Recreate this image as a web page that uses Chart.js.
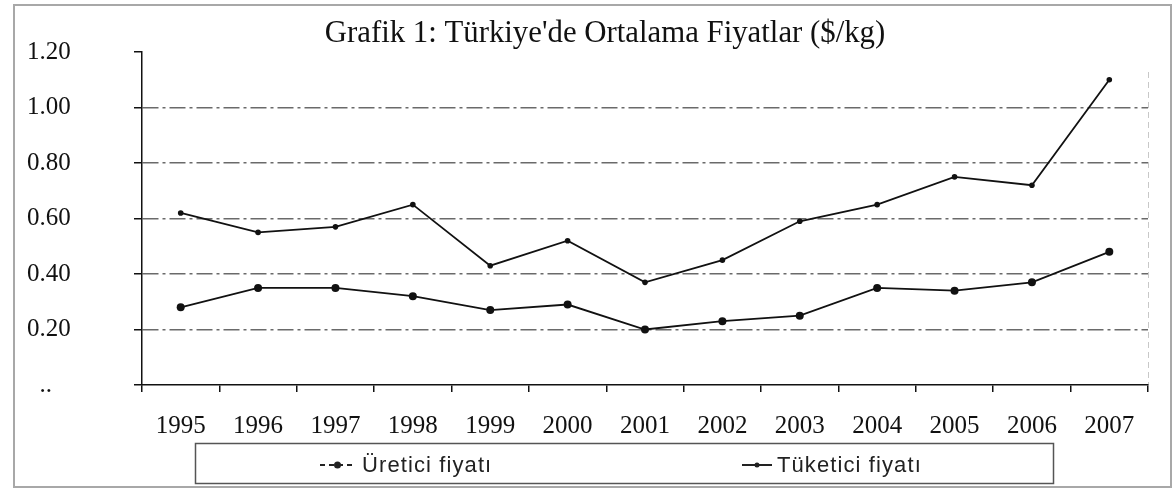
<!DOCTYPE html>
<html>
<head>
<meta charset="utf-8">
<script src="https://cdn.jsdelivr.net/npm/chart.js@4"></script>
<style>
html,body{margin:0;padding:0;background:#fff;}
#wrap{width:1174px;height:490px;position:relative;}
</style>
</head>
<body>
<div id="wrap"><canvas id="c" width="1174" height="490"></canvas></div>
<script>
const titleText = "Grafik 1: Türkiye'de Ortalama Fiyatlar ($/kg)";
const years = ["1995","1996","1997","1998","1999","2000","2001","2002","2003","2004","2005","2006","2007"];
const ureticiLabel = "Üretici fiyatı";
const tuketiciLabel = "Tüketici fiyatı";
const ureticiFiyati = [0.28,0.35,0.35,0.32,0.27,0.29,0.20,0.23,0.25,0.35,0.34,0.37,0.48];
const tuketiciFiyati = [0.62,0.55,0.57,0.65,0.43,0.52,0.37,0.45,0.59,0.65,0.75,0.72,1.10];
const yTickLabels = {0:"  ..",0.2:"0.20",0.4:"0.40",0.6:"0.60",0.8:"0.80",1:"1.00",1.2:"1.20"};

const serif = "'Liberation Serif', 'Times New Roman', serif";
const narrow = "'Liberation Sans Narrow', 'Liberation Sans', Arial, sans-serif";

const decor = {
  id: 'decor',
  beforeDraw(chart) {
    const ctx = chart.ctx;
    ctx.save();
    ctx.fillStyle = '#fff';
    ctx.fillRect(0,0,chart.width,chart.height);
    ctx.strokeStyle = '#a8a8a8';
    ctx.lineWidth = 2;
    ctx.strokeRect(14,5,1157,482);
    const a = chart.chartArea;
    ctx.strokeStyle = '#c8c8c8';
    ctx.lineWidth = 1;
    ctx.setLineDash([6,4]);
    ctx.beginPath();
    ctx.moveTo(a.right+0.5, a.top+20);
    ctx.lineTo(a.right+0.5, a.bottom);
    ctx.stroke();
    ctx.restore();
  },
  afterDraw(chart) {
    const ctx = chart.ctx;
    ctx.save();
    ctx.fillStyle = '#111';
    ctx.font = "30.8px " + serif;
    ctx.textAlign = 'center';
    ctx.textBaseline = 'alphabetic';
    ctx.fillText(titleText, 605, 42);
    ctx.strokeStyle = '#555';
    ctx.lineWidth = 1.5;
    ctx.strokeRect(195.5, 443.5, 858, 40);
    const ds = chart.data.datasets;
    const cy = 465;
    ctx.font = "22px " + narrow;
    try { ctx.letterSpacing = '1.1px'; } catch(e) {}
    ctx.textAlign = 'left';
    ctx.textBaseline = 'middle';
    ctx.strokeStyle = '#222';
    ctx.lineWidth = 2;
    ctx.setLineDash([5,4]);
    ctx.beginPath(); ctx.moveTo(320, cy); ctx.lineTo(355, cy); ctx.stroke();
    ctx.setLineDash([]);
    ctx.fillStyle = '#222';
    ctx.beginPath(); ctx.arc(337.5, cy, 3.5, 0, Math.PI*2); ctx.fill();
    ctx.fillText(ds[0].label, 362, cy+1);
    ctx.beginPath(); ctx.moveTo(742, cy); ctx.lineTo(772, cy); ctx.stroke();
    ctx.beginPath(); ctx.arc(757, cy, 2.5, 0, Math.PI*2); ctx.fill();
    ctx.fillText(ds[1].label, 777, cy+1);
    ctx.restore();
  }
};

new Chart(document.getElementById('c'), {
  type: 'line',
  data: {
    labels: years,
    datasets: [
      { label: ureticiLabel, data: ureticiFiyati, borderColor:'#111', backgroundColor:'#111',
        borderWidth:1.8, pointRadius:4, pointBorderWidth:0, pointBackgroundColor:'#111', tension:0, fill:false },
      { label: tuketiciLabel, data: tuketiciFiyati, borderColor:'#111', backgroundColor:'#111',
        borderWidth:1.8, pointRadius:2.8, pointBorderWidth:0, pointBackgroundColor:'#111', tension:0, fill:false }
    ]
  },
  options: {
    responsive:false,
    animation:false,
    devicePixelRatio:1,
    layout:{ padding:{ left:27, right:26, top:52, bottom:0 } },
    plugins:{ legend:{display:false}, title:{display:false}, tooltip:{enabled:false} },
    scales:{
      x:{
        offset:true,
        grid:{ offset:true, drawOnChartArea:false, drawTicks:true, tickLength:7, color:'#111', lineWidth:1.5 },
        border:{ display:true, color:'#111', width:1.5 },
        ticks:{ color:'#111', font:{ family:serif, size:25 }, padding:19, maxRotation:0, autoSkip:false },
        afterFit(s){ s.height = 105; }
      },
      y:{
        min:0, max:1.2,
        ticks:{ stepSize:0.2, color:'#111', font:{ family:serif, size:25 }, padding:6, crossAlign:'far',
          callback(v){ const k = Math.round(v*10)/10; return yTickLabels[k] !== undefined ? yTickLabels[k] : ''; } },
        grid:{
          drawTicks:true, tickLength:8, tickColor:'#111',
          color(ctx){ const v = ctx.tick ? ctx.tick.value : 0; return (v > 0.01 && v < 1.19) ? '#6a6a6a' : 'rgba(0,0,0,0)'; },
          lineWidth:1.5, tickBorderDash:[]
        },
        border:{ display:true, color:'#111', width:1.5, dash:[16,4,3,4] },
        afterFit(s){ s.width = 115; }
      }
    }
  },
  plugins:[decor]
});
</script>
</body>
</html>
